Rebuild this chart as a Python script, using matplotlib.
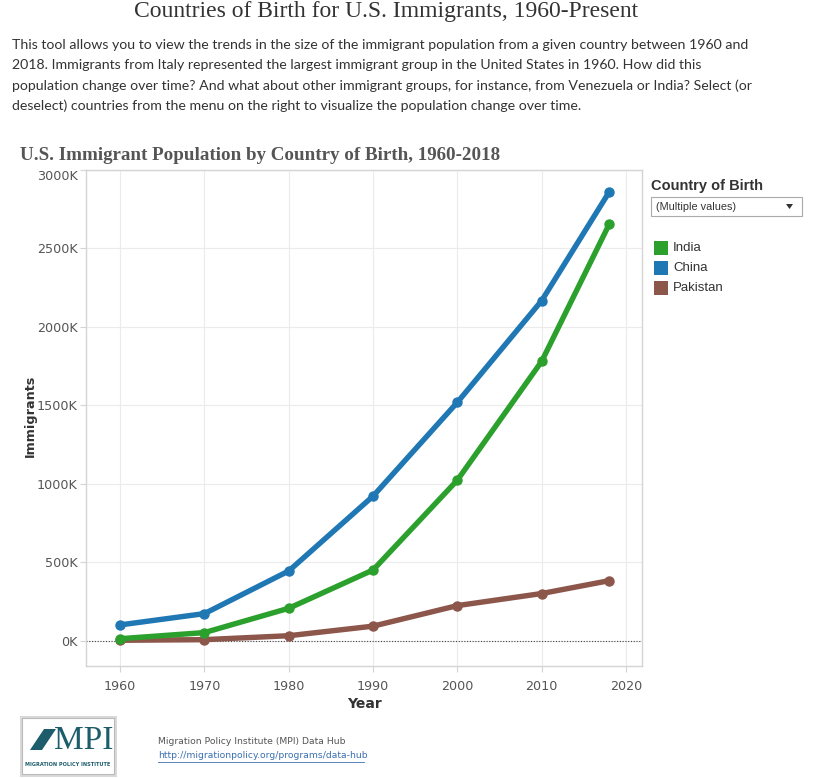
import matplotlib
matplotlib.use("Agg")
import matplotlib.pyplot as plt
from matplotlib.patches import Rectangle, Polygon
from matplotlib.ticker import FuncFormatter

# data (thousands of immigrants)
years = [1960, 1970, 1980, 1990, 2000, 2010, 2018]
india = [12, 51, 206, 450, 1023, 1780, 2653]
china = [100, 172, 444, 921, 1519, 2167, 2859]
pakistan = [2, 6, 31, 92, 223, 300, 382]

countries = ["India", "China", "Pakistan"]
colors = {"India": "#2ca02c", "China": "#1f77b4", "Pakistan": "#8c564b"}
series = {"India": india, "China": china, "Pakistan": pakistan}

xticks = [1960, 1970, 1980, 1990, 2000, 2010, 2020]
yticks = [0, 500, 1000, 1500, 2000, 2500, 3000]

W, H = 822, 778
fig = plt.figure(figsize=(W / 100, H / 100), dpi=100)
fig.patch.set_facecolor("white")

def fx(px):
    return px / W

def fy(py):
    return 1 - py / H

# header text
fig.text(fx(386), fy(12), "Countries of Birth for U.S. Immigrants, 1960-Present",
         ha="center", va="center", fontsize=17, family="Liberation Serif", color="#333333")
para = ["This tool allows you to view the trends in the size of the immigrant population from a given country between 1960 and",
        "2018. Immigrants from Italy represented the largest immigrant group in the United States in 1960. How did this",
        "population change over time? And what about other immigrant groups, for instance, from Venezuela or India? Select (or",
        "deselect) countries from the menu on the right to visualize the population change over time."]
for i, line in enumerate(para):
    fig.text(fx(12), fy(45 + i * 20.3), line, ha="left", va="center",
             fontsize=10.2, family="Lato", color="#333333")

fig.text(fx(20), fy(156), "U.S. Immigrant Population by Country of Birth, 1960-2018",
         ha="left", va="center", fontsize=13.7, family="Liberation Serif",
         weight="bold", color="#555555")

# main plot
ax = fig.add_axes([fx(86), fy(666), fx(642) - fx(86), fy(170) - fy(666)])
for name in ["Pakistan", "China", "India"]:
    ax.plot(years, series[name], color=colors[name], lw=3.9, marker="o",
            ms=6.5, solid_capstyle="round", zorder=3)

ax.set_xlim(1955.95, 2021.9)
ax.set_ylim(-162, 3000)
ax.set_xticks(xticks)
ax.set_yticks(yticks)
ax.yaxis.set_major_formatter(FuncFormatter(lambda v, p: f"{int(v)}K"))
ax.grid(True, color="#ebebeb", lw=0.8)
ax.set_axisbelow(True)
ax.axhline(0, color="#444444", lw=0.8, ls=(0, (1, 1.5)), zorder=2)
for s in ax.spines.values():
    s.set_color("#d4d4d4")
    s.set_linewidth(1)
ax.tick_params(axis="both", colors="#d4d4d4", labelcolor="#555555", labelsize=9.2,
               length=4, width=0.8)
ax.tick_params(axis="y", pad=2)
ax.tick_params(axis="x", pad=6)
for lbl in ax.get_xticklabels() + ax.get_yticklabels():
    lbl.set_family("DejaVu Sans")
ax.yaxis.get_major_ticks()[-1].label1.set_verticalalignment("top")
ax.set_xlabel("Year", fontsize=10, weight="bold", color="#333333", labelpad=3)
fig.text(fx(30), fy(416), "Immigrants", rotation=90, ha="center", va="center",
         fontsize=9.2, weight="bold", color="#333333")

# legend panel
fig.text(fx(651), fy(186), "Country of Birth", ha="left", va="center",
         fontsize=10.5, weight="bold", color="#333333", family="Liberation Sans")
fig.patches.append(Rectangle((fx(651), fy(216)), fx(802) - fx(651), fy(197) - fy(216),
                             transform=fig.transFigure, fc="white", ec="#aaaaaa", lw=0.8))
fig.text(fx(656), fy(207), "(Multiple values)", ha="left", va="center",
         fontsize=7.8, color="#333333", family="Liberation Sans")
fig.patches.append(Polygon([(fx(786), fy(204)), (fx(793), fy(204)), (fx(789.5), fy(209))],
                           closed=True, transform=fig.transFigure, fc="#333333", ec="none"))
for i, name in enumerate(countries):
    yc = 248 + i * 20
    fig.patches.append(Rectangle((fx(654), fy(yc + 7)), fx(14), 14 / H,
                                 transform=fig.transFigure, fc=colors[name], ec="none"))
    fig.text(fx(673), fy(yc), name, ha="left", va="center", fontsize=9.5,
             color="#333333", family="Liberation Sans")

# footer logo
fig.patches.append(Rectangle((fx(20), fy(777)), fx(97), 61 / H, transform=fig.transFigure,
                             fc="#d9d9d9", ec="none"))
fig.patches.append(Rectangle((fx(22), fy(774)), fx(92), 56 / H, transform=fig.transFigure,
                             fc="white", ec="#bbbbbb", lw=0.8))
fig.patches.append(Polygon([(fx(30), fy(750)), (fx(44), fy(729)), (fx(56), fy(729)),
                            (fx(42), fy(750))], closed=True, transform=fig.transFigure,
                           fc="#1d5d6b", ec="none"))
fig.text(fx(84), fy(741), "MPI", ha="center", va="center", fontsize=24,
         family="Liberation Serif", color="#1d5d6b")
fig.text(fx(68), fy(764), "MIGRATION POLICY INSTITUTE", ha="center", va="center",
         fontsize=3.6, weight="bold", color="#1d5d6b")
fig.text(fx(158), fy(742), "Migration Policy Institute (MPI) Data Hub", ha="left",
         va="center", fontsize=6.7, color="#555555", family="DejaVu Sans")
fig.text(fx(158), fy(756), "http://migrationpolicy.org/programs/data-hub", ha="left",
         va="center", fontsize=6.7, color="#3a6fb0", family="DejaVu Sans")
fig.lines.append(plt.Line2D([fx(158), fx(364)], [fy(762), fy(762)],
                            transform=fig.transFigure, color="#3a6fb0", lw=0.6))

fig.savefig("out.png", dpi=100, facecolor="white")
